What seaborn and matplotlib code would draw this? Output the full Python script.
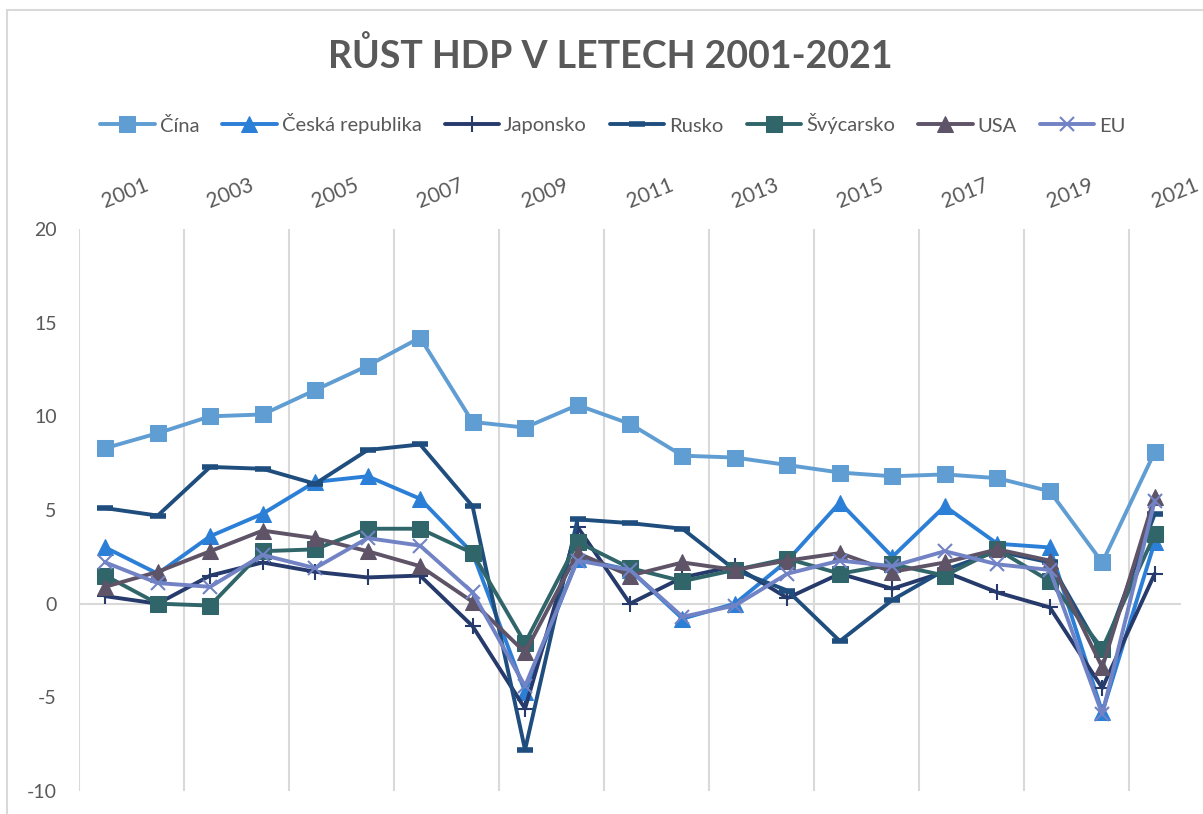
import matplotlib
matplotlib.use("Agg")
import matplotlib.pyplot as plt
import matplotlib.patches as mpatches
import seaborn as sns
import pandas as pd

# ---------- data ----------
years = list(range(2001, 2022))
cina = [8.3, 9.1, 10.0, 10.1, 11.4, 12.7, 14.2, 9.7, 9.4, 10.6, 9.6, 7.9, 7.8, 7.4, 7.0, 6.8, 6.9, 6.7, 6.0, 2.2, 8.1]
cesko = [3.0, 1.6, 3.6, 4.8, 6.5, 6.8, 5.6, 2.7, -4.7, 2.4, 1.8, -0.8, 0.0, 2.3, 5.4, 2.5, 5.2, 3.2, 3.0, -5.8, 3.3]
japonsko = [0.4, 0.0, 1.5, 2.2, 1.7, 1.4, 1.5, -1.2, -5.6, 4.1, 0.0, 1.4, 2.0, 0.3, 1.6, 0.8, 1.7, 0.6, -0.2, -4.5, 1.6]
rusko = [5.1, 4.7, 7.3, 7.2, 6.4, 8.2, 8.5, 5.2, -7.8, 4.5, 4.3, 4.0, 1.8, 0.7, -2.0, 0.2, 1.8, 2.8, 2.2, -2.7, 4.8]
svycarsko = [1.5, 0.0, -0.1, 2.8, 2.9, 4.0, 4.0, 2.7, -2.1, 3.3, 1.9, 1.2, 1.8, 2.4, 1.6, 2.1, 1.5, 2.9, 1.2, -2.4, 3.7]
usa = [0.9, 1.7, 2.8, 3.9, 3.5, 2.8, 2.0, 0.1, -2.6, 2.7, 1.5, 2.2, 1.8, 2.3, 2.7, 1.7, 2.2, 2.9, 2.3, -3.4, 5.7]
eu = [2.2, 1.1, 0.9, 2.6, 1.9, 3.5, 3.1, 0.6, -4.4, 2.3, 1.8, -0.7, -0.1, 1.6, 2.3, 2.0, 2.8, 2.1, 1.8, -5.9, 5.5]

series_names = ["Čína", "Česká republika", "Japonsko", "Rusko", "Švýcarsko", "USA", "EU"]
series_values = [cina, cesko, japonsko, rusko, svycarsko, usa, eu]
year_labels = [str(y) for y in years[::2]]
y_ticks = [-10, -5, 0, 5, 10, 15, 20]

styles = {
    "Čína": dict(color="#5F9DD3", marker="s", markersize=11),
    "Česká republika": dict(color="#2C7FD6", marker="^", markersize=12),
    "Japonsko": dict(color="#263A6B", marker="+", markersize=12, markeredgewidth=1.5),
    "Rusko": dict(color="#1F4E7E", marker="_", markersize=12, markeredgewidth=4),
    "Švýcarsko": dict(color="#30656A", marker="s", markersize=11),
    "USA": dict(color="#5E5367", marker="^", markersize=12),
    "EU": dict(color="#7183C4", marker="x", markersize=10, markeredgewidth=1.5),
}

df = pd.DataFrame({"rok": years})
for name, vals in zip(series_names, series_values):
    df[name] = vals
long_df = df.melt(id_vars="rok", var_name="zeme", value_name="rust")

sns.set_style("white")
plt.rcParams["font.family"] = ["Lato", "DejaVu Sans"]
text_color = "#595959"
grid_color = "#D9D9D9"

W, H = 1203, 814
fig = plt.figure(figsize=(W / 100, H / 100), dpi=100)
ax = fig.add_axes([79 / W, 1 - 791 / H, (1181 - 79) / W, (791 - 229) / H])

# outer chart border (partly cropped in the reference)
fig.patches.append(mpatches.Rectangle((7 / W, -0.1), 1.2, (H - 10) / H + 0.1,
                                      transform=fig.transFigure, fill=False,
                                      edgecolor=grid_color, linewidth=1.5))

# vertical gridlines between every second category, zero line
for gx in range(2000, 2021, 2):
    ax.axvline(gx + 0.5, color=grid_color, linewidth=1.5, zorder=0)
ax.axhline(0, color=grid_color, linewidth=1.5, zorder=0)

for name in series_names:
    sub = long_df[long_df["zeme"] == name]
    sns.lineplot(data=sub, x="rok", y="rust", ax=ax, linewidth=2.8,
                 label=name, markeredgecolor=styles[name]["color"], **styles[name])

ax.set_xlim(2000.5, 2021.5)
ax.set_ylim(-10, 20)
ax.set_yticks(y_ticks)
ax.set_yticklabels([str(t) for t in y_ticks])
ax.xaxis.tick_top()
ax.set_xticks(years[::2])
ax.set_xticklabels(year_labels, rotation=22, ha="left", va="baseline",
                   rotation_mode="anchor")
ax.tick_params(axis="x", length=0, pad=15, labelsize=15, colors=text_color)
ax.tick_params(axis="y", length=0, pad=16, labelsize=14, colors=text_color)
ax.set_xlabel("")
ax.set_ylabel("")
for sp in ax.spines.values():
    sp.set_visible(False)

handles, labels = ax.get_legend_handles_labels()
ax.get_legend().remove()
leg = fig.legend(handles, labels, loc="center", bbox_to_anchor=(613 / W, 1 - 124 / H),
                 ncol=7, frameon=False, fontsize=14.5, handlelength=2.7,
                 handletextpad=0.25, columnspacing=1.15)
for t in leg.get_texts():
    t.set_color(text_color)

fig.text(610 / W, 1 - 68 / H, "RŮST HDP V LETECH 2001-2021", ha="center",
         va="baseline", fontsize=27, fontweight="bold", color=text_color)

fig.savefig("out.png", dpi=100, facecolor="white")
